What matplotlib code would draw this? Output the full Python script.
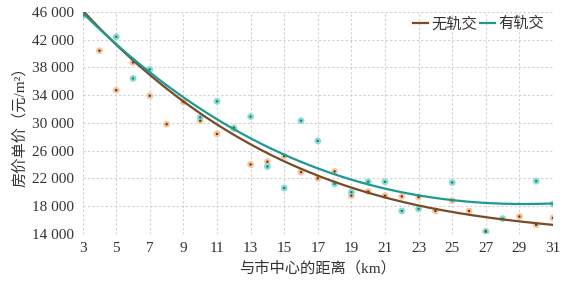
import numpy as np
import matplotlib
matplotlib.use("Agg")
import matplotlib.pyplot as plt
from matplotlib.ticker import FuncFormatter

plt.rcParams['font.family'] = ['Liberation Serif', 'Noto Sans CJK SC']

# 无轨交 (no rail transit) – observed points
x_no = [3, 4, 5, 6, 7, 8, 9, 10, 11, 12, 13, 14, 15, 16, 17, 18, 19, 20, 21, 22, 23, 24, 25, 26, 27, 29, 30, 31]
y_no = [45600, 40400, 34700, 38700, 33900, 29800, 33000, 30300, 28400, 29300, 24000, 24400, 25200, 22900, 22000,
        23000, 19500, 20100, 19500, 19400, 19300, 17300, 18800, 17300, 14400, 16500, 15300, 16300]
# 有轨交 (with rail transit) – observed points
x_yes = [3, 5, 6, 7, 10, 11, 12, 13, 14, 15, 16, 17, 18, 19, 20, 21, 22, 23, 25, 27, 28, 30, 31]
y_yes = [45400, 42400, 36400, 37700, 30800, 33100, 29200, 30900, 23700, 20600, 30300, 27400,
         21200, 20000, 21500, 21500, 17300, 17600, 21400, 14300, 16200, 21600, 18300]

# trend-line values at the tick positions
x_trend = [3, 5, 7, 9, 11, 13, 15, 17, 19, 21, 23, 25, 27, 29, 31]
trend_no = [46000, 41300, 37140, 33300, 29860, 26740, 24200, 22100, 20650, 19450, 18250, 17200, 16430, 15760, 15230]
trend_yes = [45600, 41600, 37470, 33780, 30430, 27410, 25160, 23500, 22100, 20650, 19600, 18830, 18350, 18160, 18500]

x_ticks = [3, 5, 7, 9, 11, 13, 15, 17, 19, 21, 23, 25, 27, 29, 31]
y_ticks = [14000, 18000, 22000, 26000, 30000, 34000, 38000, 42000, 46000]

brown = '#7a4a26'
teal = '#1a9a90'
orange_face = '#f8c49c'
teal_face = '#8adcd3'

fig = plt.figure(figsize=(5.66, 2.88), dpi=100)
ax = fig.add_axes([0.146, 0.188, 0.831, 0.771])

# scatter points
ax.scatter(x_no, y_no, s=24, color=orange_face, edgecolors='none', zorder=3)
ax.scatter(x_no, y_no, s=3, color='#5a3520', edgecolors='none', zorder=4)
ax.scatter(x_yes, y_yes, s=24, color=teal_face, edgecolors='none', zorder=3)
ax.scatter(x_yes, y_yes, s=3, color='#1f7d75', edgecolors='none', zorder=4)

# smooth trend lines through the read trend values
xs = np.linspace(3, 31, 200)
c_no = np.polyfit(x_trend, trend_no, 3)
c_yes = np.polyfit(x_trend, trend_yes, 3)
ax.plot(xs, np.polyval(c_no, xs), color=brown, lw=1.6, zorder=5, label='无轨交')
ax.plot(xs, np.polyval(c_yes, xs), color=teal, lw=1.6, zorder=5, label='有轨交')

ax.set_xlim(3, 31)
ax.set_ylim(14000, 46000)
ax.set_xticks(x_ticks)
ax.set_yticks(y_ticks)
ax.yaxis.set_major_formatter(FuncFormatter(lambda v, p: f"{int(v):,}".replace(',', ' ')))
ax.tick_params(length=0, labelsize=11, colors='#333333', pad=6)
ax.grid(True, color='#d0d0d0', linestyle=(0, (2, 2)), linewidth=0.8)
for s in ax.spines.values():
    s.set_visible(False)

ax.set_xlabel('与市中心的距离（km）', fontsize=11, color='#333333', labelpad=4)
ax.set_ylabel('房价单价（元/m²）', fontsize=11, color='#333333', labelpad=4)

leg = ax.legend(loc='upper right', bbox_to_anchor=(1.01, 1.04), ncol=2, frameon=False,
                fontsize=11, handlelength=1.0, handletextpad=0.2, columnspacing=0.2)
for t in leg.get_texts():
    t.set_color('#333333')

fig.savefig('out.png', dpi=100)
